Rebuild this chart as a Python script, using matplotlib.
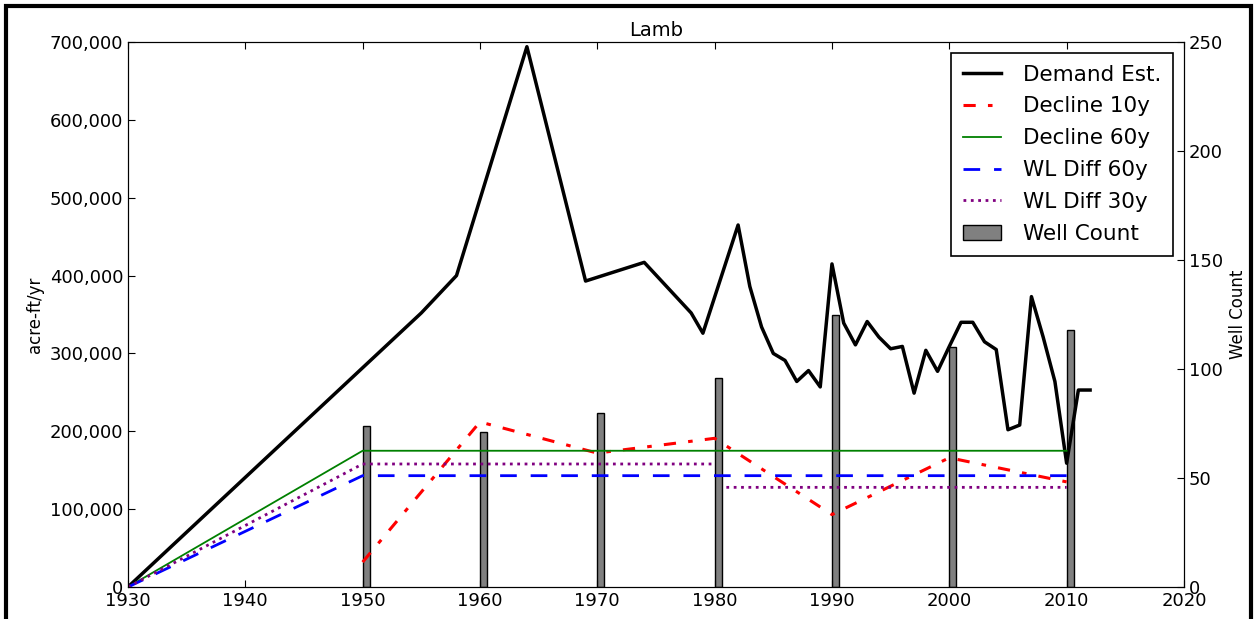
import numpy as np
import matplotlib
matplotlib.use("Agg")
import matplotlib.pyplot as plt
from matplotlib.ticker import FuncFormatter
from matplotlib.patches import Rectangle

# demand estimate (acre-ft/yr)
demand_years = [1930, 1955, 1958, 1964, 1969, 1974, 1978, 1979, 1982, 1983, 1984, 1985,
                1986, 1987, 1988, 1989, 1990, 1991, 1992, 1993, 1994, 1995, 1996, 1997,
                1998, 1999, 2000, 2001, 2002, 2003, 2004, 2005, 2006, 2007, 2008, 2009,
                2010, 2011, 2012]
demand = [0, 352000, 400000, 694000, 393000, 417000, 352000, 326000, 465000, 386000,
          334000, 300000, 291000, 264000, 278000, 257000, 415000, 339000, 311000, 341000,
          321000, 306000, 309000, 249000, 304000, 277000, 309000, 340000, 340000, 315000,
          305000, 202000, 208000, 373000, 321000, 264000, 159000, 253000, 253000]

decline10_years = [1950, 1960, 1970, 1980, 1990, 2000, 2010]
decline10 = [32000, 212000, 172000, 191000, 93000, 166000, 135000]

decline60_years = [1930, 1950, 2010]
decline60 = [0, 175000, 175000]

wl60_years = [1930, 1950, 2010]
wl60 = [0, 143000, 143000]

wl30_years = [1930, 1950, 1980, 1980, 1981, 2010]
wl30 = [0, 158000, 158000, np.nan, 128000, 128000]

well_years = [1950, 1960, 1970, 1980, 1990, 2000, 2010]
well_count = [74, 71, 80, 96, 125, 110, 118]

plt.rcParams['font.family'] = 'DejaVu Sans'

fig = plt.figure(figsize=(12.57, 6.19), dpi=100)
ax = fig.add_axes([0.1018, 0.0517, 0.8401, 0.8804])
ax2 = ax.twinx()

l1, = ax.plot(demand_years, demand, color='black', lw=2.5, label='Demand Est.')
l2, = ax.plot(decline10_years, decline10, color='red', lw=2.2, dashes=(4, 4, 1.5, 4),
              label='Decline 10y')
l3, = ax.plot(decline60_years, decline60, color='green', lw=1.3, label='Decline 60y')
l4, = ax.plot(wl60_years, wl60, color='blue', ls='--', lw=2, dashes=(6, 5), label='WL Diff 60y')
l5, = ax.plot(wl30_years, wl30, color='purple', ls=':', lw=2, label='WL Diff 30y')

bars = ax2.bar(well_years, well_count, width=0.6, align='edge', color='grey',
               edgecolor='black', lw=1, label='Well Count')

ax.set_xlim(1930, 2020)
ax.set_ylim(0, 700000)
ax2.set_ylim(0, 250)
ax.set_xticks(np.arange(1930, 2021, 10))
ax.set_yticks(np.arange(0, 700001, 100000))
ax2.set_yticks(np.arange(0, 251, 50))
ax.yaxis.set_major_formatter(FuncFormatter(lambda v, p: '{:,.0f}'.format(v)))

ax.tick_params(direction='in', labelsize=13, length=5, top=True)
ax2.tick_params(direction='in', labelsize=13, length=5)
ax.set_ylabel('acre-ft/yr', fontsize=12)
ax2.set_ylabel('Well Count', fontsize=12)
ax.set_title('Lamb', fontsize=14, pad=4)

# lines drawn above the bars
ax.set_zorder(ax2.get_zorder() + 1)
ax.patch.set_visible(False)

leg = ax.legend([l1, l2, l3, l4, l5, bars],
                ['Demand Est.', 'Decline 10y', 'Decline 60y', 'WL Diff 60y', 'WL Diff 30y', 'Well Count'],
                loc='upper right', fontsize=15.5, fancybox=False, framealpha=1,
                edgecolor='black', handlelength=1.8, handletextpad=1.0, borderpad=0.55,
                borderaxespad=0.5, labelspacing=0.55)
leg.get_frame().set_linewidth(1.2)

# outer frame of the figure
fig.patches.append(Rectangle((6 / 1257, -0.05), 1245 / 1257, 1.05 - 6 / 619,
                             transform=fig.transFigure, fill=False, edgecolor='black', lw=3))

fig.savefig('out.png', dpi=100)
